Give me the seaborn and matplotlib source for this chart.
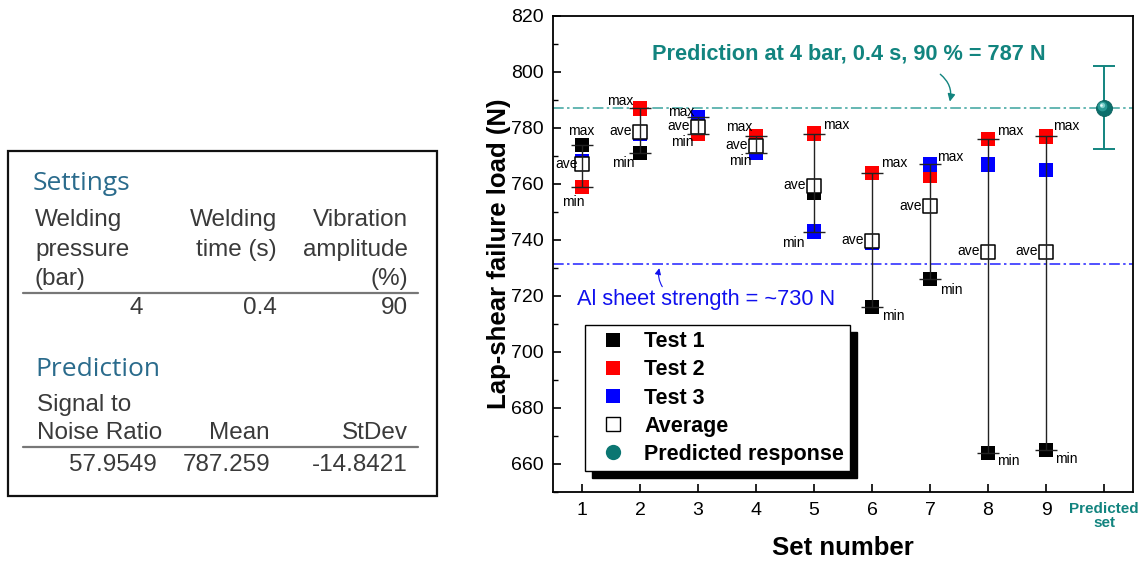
import numpy as np
import pandas as pd
import matplotlib
matplotlib.use("Agg")
import matplotlib.pyplot as plt
import seaborn as sns
from matplotlib.lines import Line2D
from matplotlib.patches import Rectangle
from matplotlib.ticker import MultipleLocator
from matplotlib import transforms

# ---------------- data ----------------
sets = [1, 2, 3, 4, 5, 6, 7, 8, 9]
test1 = [774, 771, 779, 773, 757, 716, 726, 664, 665]
test2 = [759, 787, 778, 777, 778, 764, 763, 776, 777]
test3 = [768, 778, 784, 771, 743, 739, 767, 767, 765]
test_names = ["Test 1", "Test 2", "Test 3"]

pred_set = 10
pred_mean = 787.259
pred_sd = 14.8421
al_strength = 731.5

x_ticks = [1, 2, 3, 4, 5, 6, 7, 8, 9, 10]
x_tick_labels = ["1", "2", "3", "4", "5", "6", "7", "8", "9", "Predicted\nset"]

settings_title = "Settings"
settings_headers = [["Welding", "pressure", "(bar)"],
                    ["Welding", "time (s)"],
                    ["Vibration", "amplitude", "(%)"]]
settings_values = ["4", "0.4", "90"]

prediction_title = "Prediction"
prediction_headers = [["Signal to", "Noise Ratio"], ["Mean"], ["StDev"]]
prediction_values = ["57.9549", "787.259", "-14.8421"]

# ---------------- style ----------------
sns.set_theme(style="ticks")
plt.rcParams["font.family"] = ["Liberation Sans", "DejaVu Sans"]
plt.rcParams["axes.linewidth"] = 1.3
plt.rcParams["text.color"] = "black"
plt.rcParams["axes.labelcolor"] = "black"
plt.rcParams["xtick.color"] = "black"
plt.rcParams["ytick.color"] = "black"

TEAL = "#12847f"
TEAL_LINE = "#3aa39e"
BLUE_TXT = "#1010ee"
W, H = 1147, 562

fig = plt.figure(figsize=(W / 100, H / 100), dpi=100)

# ---------------- settings / prediction table (left) ----------------
tab = fig.add_axes([0, 0, 1, 1], zorder=0)
tab.set_xlim(0, W)
tab.set_ylim(H, 0)
tab.axis("off")
tab.add_patch(Rectangle((8, 151), 429, 345, fill=False, ec="#111111", lw=1.6))

hdr_kw = dict(color="#2a6b8c", fontsize=19, family=["Open Sans", "DejaVu Sans"],
              va="center")
body_kw = dict(color="#3a3a3a", fontsize=17.5, va="center")

tab.text(33, 184, settings_title, ha="left", **hdr_kw)
set_rows = [220, 250, 279]
set_cols = [(35, "left"), (277, "right"), (408, "right")]
for (cx, align), lines in zip(set_cols, settings_headers):
    for ry, line in zip(set_rows, lines):
        tab.text(cx, ry, line, ha=align, **body_kw)
tab.plot([23, 418], [293, 293], color="#777777", lw=1.6)
for cx, val in zip([143, 277, 408], settings_values):
    tab.text(cx, 308, val, ha="right", **body_kw)

tab.text(35, 369, prediction_title, ha="left", **hdr_kw)
pred_rows = [405, 433]
tab.text(37, pred_rows[0], prediction_headers[0][0], ha="left", **body_kw)
tab.text(37, pred_rows[1], prediction_headers[0][1], ha="left", **body_kw)
tab.text(270, pred_rows[1], prediction_headers[1][0], ha="right", **body_kw)
tab.text(408, pred_rows[1], prediction_headers[2][0], ha="right", **body_kw)
tab.plot([23, 418], [447, 447], color="#777777", lw=1.6)
for cx, val in zip([157, 270, 408], prediction_values):
    tab.text(cx, 465, val, ha="right", **body_kw)

# ---------------- lap-shear chart (right) ----------------
ax = fig.add_axes([553 / W, (H - 492) / H, 580 / W, 476 / H], zorder=2)

df = pd.DataFrame({
    "Set": sets * 3,
    "Test": sum([[n] * len(sets) for n in test_names], []),
    "Load": test1 + test2 + test3,
})
sns.scatterplot(data=df, x="Set", y="Load", hue="Test",
                palette=["black", "red", "blue"], marker="s", s=110,
                linewidth=0, legend=False, ax=ax, zorder=2)

stats = df.groupby("Set")["Load"].agg(["min", "max", "mean"]).reset_index()
sns.scatterplot(data=stats, x="Set", y="mean", marker="s", s=95,
                facecolor="white", edgecolor="black", linewidth=1.1,
                legend=False, ax=ax, zorder=3)
ax.errorbar(stats["Set"], (stats["max"] + stats["min"]) / 2,
            yerr=(stats["max"] - stats["min"]) / 2, fmt="none",
            ecolor="#222222", elinewidth=1.0, capsize=8, capthick=1.0, zorder=4)

# reference lines
dashdot = (0, (7, 2.2, 1.6, 2.2))
ax.axhline(pred_mean, color=TEAL_LINE, lw=1.1, ls=dashdot, zorder=1)
ax.axhline(al_strength, color="#2020ff", lw=1.1, ls=dashdot, zorder=1)

# predicted response with its spread
ax.errorbar([pred_set], [pred_mean], yerr=[pred_sd], fmt="none", ecolor=TEAL,
            elinewidth=1.4, capsize=8, capthick=1.4, zorder=4)
ax.plot([pred_set], [pred_mean], "o", ms=11.5, color="#0b6f6c", mec="#0b5f5c",
        mew=0.6, zorder=5)
for dx, dy, msz, col in [(-1.2, 1.2, 7, "#2a9995"), (-1.8, 1.8, 3.8, "#7fcfcb"),
                         (-2.1, 2.1, 1.8, "#e8fbfa")]:
    tr = transforms.offset_copy(ax.transData, fig=fig, x=dx, y=dy, units="points")
    ax.plot([pred_set], [pred_mean], "o", ms=msz, color=col, mew=0,
            transform=tr, zorder=6)

# max / min / ave annotations (offsets in pixels from the mark)
max_off = [(-1, 14), (-20, 7), (-17, 5), (-17, 9), (22, 9), (22, 10), (20, 7), (22, 8), (20, 10)]
min_off = [(-9, -15), (-17, -10), (-16, -8), (-16, -8), (-21, -11), (21, -9), (21, -11), (20, -8), (20, -9)]
ave_off = [-4, -8, -8, -8, -8, -8, -8, -8, -8]
lab_kw = dict(textcoords="offset points", ha="center", va="center",
              fontsize=10, color="black", zorder=6)
for i, row in stats.iterrows():
    mx, my = max_off[i]
    nx, ny = min_off[i]
    ax.annotate("max", (row["Set"], row["max"]), xytext=(mx * 0.72, my * 0.72), **lab_kw)
    ax.annotate("min", (row["Set"], row["min"]), xytext=(nx * 0.72, ny * 0.72), **lab_kw)
    ax.annotate("ave", (row["Set"], row["mean"]), xytext=(ave_off[i] * 0.72, 0.5),
                textcoords="offset points", ha="right", va="center",
                fontsize=10, zorder=6)

# text call-outs
ax.annotate("", xy=(7.33, pred_mean + 1.2), xytext=(7.14, 799.8),
            arrowprops=dict(arrowstyle="-|>", color=TEAL, lw=1.0,
                            mutation_scale=11, connectionstyle="arc3,rad=-0.35"))
ax.text(5.6, 806.3, "Prediction at 4 bar, 0.4 s, 90 % = 787 N", color=TEAL,
        fontsize=15.7, fontweight="bold", ha="center", va="center")
ax.annotate("", xy=(2.345, al_strength - 0.6), xytext=(2.41, 722.5),
            arrowprops=dict(arrowstyle="-|>", color=BLUE_TXT, lw=0.8,
                            mutation_scale=9, connectionstyle="arc3,rad=-0.25"))
ax.text(0.91, 718.8, "Al sheet strength = ~730 N", color=BLUE_TXT,
        fontsize=15.7, ha="left", va="center")

# axes
ax.set_xlim(0.5, 10.5)
ax.set_ylim(650, 820)
ax.set_xticks(x_ticks)
ax.set_xticklabels(x_tick_labels)
ax.yaxis.set_major_locator(MultipleLocator(20))
ax.yaxis.set_minor_locator(MultipleLocator(10))
ax.tick_params(axis="both", which="major", direction="in", length=6, width=1.2,
               labelsize=14, pad=7, colors="black")
ax.tick_params(axis="y", which="minor", direction="in", length=3.5, width=1.0)
for lab in ax.get_xticklabels()[-1:]:
    lab.set_color(TEAL)
    lab.set_fontweight("bold")
    lab.set_fontsize(11)
    lab.set_linespacing(1.05)
for s in ax.spines.values():
    s.set_visible(True)
    s.set_color("black")
ax.set_xlabel("Set number", fontsize=18.5, fontweight="bold", labelpad=4)
ax.set_ylabel("Lap-shear failure load (N)", fontsize=18.5, fontweight="bold", labelpad=0)

# legend
handles = [
    Line2D([], [], ls="none", marker="s", ms=10, color="black", mew=0),
    Line2D([], [], ls="none", marker="s", ms=10, color="red", mew=0),
    Line2D([], [], ls="none", marker="s", ms=10, color="blue", mew=0),
    Line2D([], [], ls="none", marker="s", ms=9.5, mfc="white", mec="black", mew=1.0),
    Line2D([], [], ls="none", marker="o", ms=11, color="#0b7672", mew=0),
]
labels = test_names + ["Average", "Predicted response"]
leg = ax.legend(handles, labels, loc="upper left", bbox_to_anchor=(0.055, 0.351),
                borderaxespad=0, frameon=True, fancybox=False, edgecolor="black",
                framealpha=1, prop=dict(family="Liberation Sans", weight="bold", size=15.5),
                handlelength=2.0, handletextpad=0.45, labelspacing=0.33,
                borderpad=0.3,
                shadow=dict(ox=5, oy=-5, facecolor="black", edgecolor="black", alpha=1))
leg.get_frame().set_linewidth(1.0)
leg.set_zorder(7)

fig.savefig("out.png", dpi=100)
